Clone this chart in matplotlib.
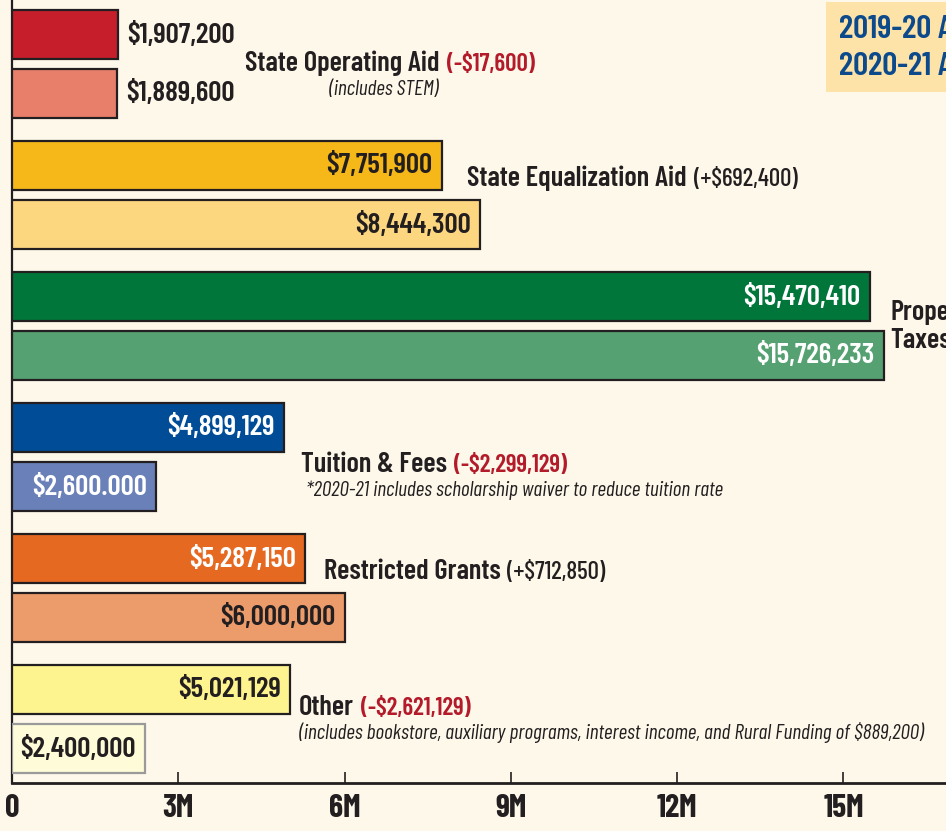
import os
import matplotlib
matplotlib.use("Agg")
import matplotlib.pyplot as plt
from matplotlib import font_manager as fm
from matplotlib.patches import Rectangle

# ---------------- data ----------------
categories = ["State Operating Aid", "State Equalization Aid", "Property\nTaxes",
              "Tuition & Fees", "Restricted Grants", "Other"]
values_2019 = [1907200, 7751900, 15470410, 4899129, 5287150, 5021129]
values_2020 = [1889600, 8444300, 15726233, 2600000, 6000000, 2400000]
labels_2019 = ["$1,907,200", "$7,751,900", "$15,470,410", "$4,899,129", "$5,287,150", "$5,021,129"]
labels_2020 = ["$1,889,600", "$8,444,300", "$15,726,233", "$2,600.000", "$6,000,000", "$2,400,000"]
changes = ["(-$17,600)", "(+$692,400)", "(+$255,823)", "(-$2,299,129)", "(+$712,850)", "(-$2,621,129)"]
notes = ["(includes STEM)", "", "", "*2020-21 includes scholarship waiver to reduce tuition rate", "",
         "(includes bookstore, auxiliary programs, interest income, and Rural Funding of $889,200)"]
tick_values = [0, 3e6, 6e6, 9e6, 12e6, 15e6]
tick_labels = ["0", "3M", "6M", "9M", "12M", "15M"]
legend_labels = ["2019-20 Actual", "2020-21 Adopted"]

# ---------------- style ----------------
colors_2019 = ["#c61e2b", "#f6b719", "#00763a", "#004c97", "#e66922", "#fdf38f"]
colors_2020 = ["#e87f6a", "#fdd780", "#55a172", "#6a80b8", "#ec9c6b", "#fefbd9"]
edges_2020 = ["#231f20"] * 5 + ["#9a9a9a"]
text_2019 = ["#231f20", "#231f20", "white", "white", "white", "#231f20"]
text_2020 = ["#231f20", "#231f20", "white", "white", "#231f20", "#231f20"]
change_colors = ["#b31b2b", "#231f20", "#231f20", "#b31b2b", "#231f20", "#b31b2b"]
BG = "#fef8ea"
DARK = "#231f20"
BLUE = "#0d4a8c"

_files = {os.path.basename(f.fname): f.fname for f in fm.fontManager.ttflist}


def fp(fname, size):
    if fname in _files:
        return fm.FontProperties(fname=_files[fname], size=size)
    return fm.FontProperties(family="DejaVu Sans", size=size,
                             weight="bold" if "Bold" in fname else "normal",
                             style="italic" if "Italic" in fname else "normal")


HEAVY = "BarlowCondensed-Bold.ttf"
BOLD = "BarlowCondensed-SemiBold.ttf"
MED = "BarlowCondensed-Medium.ttf"
ITAL = "BarlowCondensed-Italic.ttf"

W, H = 946, 831
fig = plt.figure(figsize=(W / 100, H / 100), dpi=100, facecolor=BG)
ax = fig.add_axes([12 / W, 48 / H, 1 - 12 / W, 783 / H])
ax.set_facecolor(BG)

PITCH = 131.0  # px per group
off = 29.5 / PITCH
bh = 49 / PITCH
n = len(categories)
idx = list(range(n))
y1 = [i - off for i in idx]
y2 = [i + off for i in idx]

ax.barh(y1, values_2019, height=bh, color=colors_2019, edgecolor=DARK, linewidth=1.6, zorder=3)
ax.barh(y2, values_2020, height=bh, color=colors_2020, edgecolor=edges_2020, linewidth=1.6, zorder=3)

ax.set_xlim(0, 16.85e6)
ax.set_ylim((783 - 64) / PITCH, -64 / PITCH)

for s in ["top", "right"]:
    ax.spines[s].set_visible(False)
ax.spines["left"].set_linewidth(1.6)
ax.spines["left"].set_color(DARK)
ax.spines["bottom"].set_linewidth(2.0)
ax.spines["bottom"].set_color(DARK)
ax.set_yticks([])
ax.set_xticks(tick_values)
ax.set_xticklabels(tick_labels, fontproperties=fp(HEAVY, 23), color=DARK)
ax.tick_params(axis="x", direction="in", length=8, width=1.2, color=DARK, pad=8)

VAL_FS = 21
for i in idx:
    for (yy, v, lab, tc) in [(y1[i], values_2019[i], labels_2019[i], text_2019[i]),
                             (y2[i], values_2020[i], labels_2020[i], text_2020[i])]:
        if i == 0:
            ax.annotate(lab, xy=(v, yy), xytext=(7, 0), textcoords="offset points",
                        ha="left", va="center", fontproperties=fp(BOLD, VAL_FS), color=tc, zorder=4)
        else:
            ax.annotate(lab, xy=(v, yy), xytext=(-6.5, 0), textcoords="offset points",
                        ha="right", va="center", fontproperties=fp(BOLD, VAL_FS), color=tc, zorder=4)

# category label layout (x in data units, y offset in px from group mid)
cat_x = [4.21e6, 8.21e6, 15.85e6, 5.21e6, 5.62e6, 5.17e6]
cat_dy = [7, -9, 0, 15, -9, -4]
note_dx = [1.5e6, 0, 0, 0.1e6, 0, 0]
CAT_FS = 20.5
CHG_FS = 18
NOTE_FS = 15.4
GAP = 7

fig.canvas.draw()
renderer = fig.canvas.get_renderer()
for i in idx:
    yc = i + cat_dy[i] / PITCH
    if i == 2:
        continue
    t1 = ax.text(cat_x[i], yc, categories[i], ha="left", va="baseline",
                 fontproperties=fp(BOLD, CAT_FS), color=DARK)
    bb = t1.get_window_extent(renderer)
    xd = ax.transData.inverted().transform((bb.x1 + GAP, 0))[0]
    chg_font = BOLD if change_colors[i] != DARK else MED
    ax.text(xd, yc, changes[i], ha="left", va="baseline",
            fontproperties=fp(chg_font, CHG_FS), color=change_colors[i])
    if notes[i]:
        ax.text(cat_x[i] + note_dx[i], yc + 24 / PITCH, notes[i], ha="left", va="baseline",
                fontproperties=fp(ITAL, NOTE_FS), color=DARK)

# property taxes: two lines, change on the second line (clipped at the edge as in the source)
line1, line2 = categories[2].split("\n")
ax.text(cat_x[2], 2 - 6 / PITCH, line1, ha="left", va="baseline", fontproperties=fp(BOLD, CAT_FS), color=DARK)
tt = ax.text(cat_x[2], 2 + 22 / PITCH, line2, ha="left", va="baseline", fontproperties=fp(BOLD, CAT_FS), color=DARK)
bb = tt.get_window_extent(renderer)
xd = ax.transData.inverted().transform((bb.x1 + GAP, 0))[0]
ax.text(xd, 2 + 22 / PITCH, changes[2], ha="left", va="baseline", fontproperties=fp(MED, CHG_FS), color=DARK)

# legend box (top right, clipped by figure edge)
fig.patches.append(Rectangle((826 / W, 1 - 92 / H), 200 / W, 90 / H, transform=fig.transFigure,
                             facecolor="#fde3a7", edgecolor="none", zorder=5))
for k, lab in enumerate(legend_labels):
    fig.text(839 / W, 1 - (38 + 37 * k) / H, lab, ha="left", va="baseline",
             fontproperties=fp(BOLD, 24), color=BLUE, zorder=6)

fig.savefig("out.png", dpi=100, facecolor=BG)
